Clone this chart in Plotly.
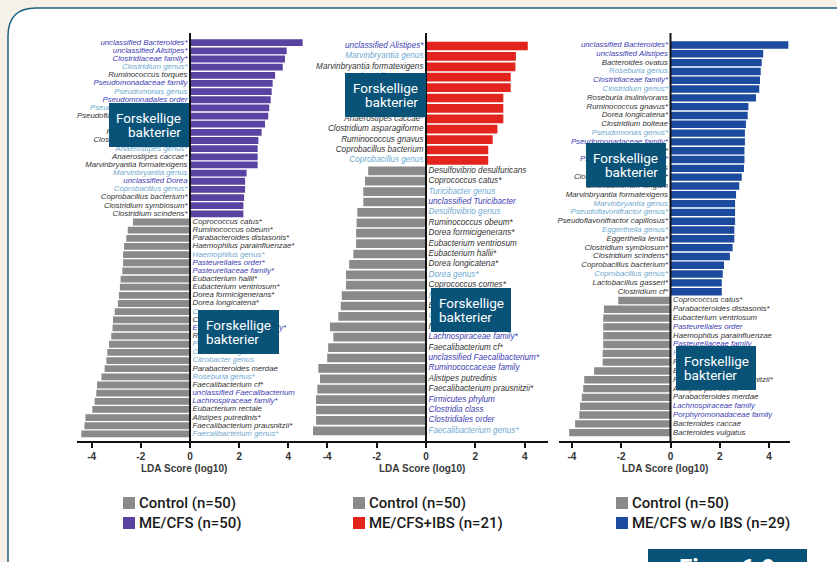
import plotly.graph_objects as go

W, H = 837, 562


def px(x):
    return x / W


def py(y):
    return 1 - y / H


# ---------------- data ----------------
# Panel 1: ME/CFS (n=50) vs Control (n=50)
p1_case_names = [
    "unclassified Bacteroides*", "unclassified Alistipes*", "Clostridiaceae family*",
    "Clostridium genus*", "Ruminococcus torques", "Pseudomonadaceae family",
    "Pseudomonas genus", "Pseudomonadales order", "Pseudoflavonifractor genus*",
    "Pseudoflavonifractor capillosus*", "Clostridium bolteae*", "Roseburia inulinivorans",
    "Clostridium asparagiforme*", "Anaerostipes genus*", "Anaerostipes caccae*",
    "Marvinbryantia formatexigens", "Marvinbryantia genus", "unclassified Dorea",
    "Coprobacillus genus*", "Coprobacillus bacterium*", "Clostridium symbiosum*",
    "Clostridium scindens*",
]
p1_case_lda = [4.58, 3.93, 3.86, 3.77, 3.46, 3.36, 3.32, 3.28, 3.22, 3.18, 3.05,
               2.91, 2.78, 2.75, 2.75, 2.75, 2.30, 2.24, 2.24, 2.20, 2.17, 2.17]
p1_ctrl_names = [
    "Coprococcus catus*", "Ruminococcus obeum*", "Parabacteroides distasonis*",
    "Haemophilus parainfluenzae*", "Haemophilus genus*", "Pasteurellales order*",
    "Pasteurellaceae family*", "Eubacterium hallii*", "Eubacterium ventriosum*",
    "Dorea formicigenerans*", "Dorea longicatena*", "Coprococcus genus*",
    "Coprococcus comes*", "Erysipelotrichaceae family*", "Ruminococcus bromii",
    "Parabacteroides genus*", "Oscillibacter genus", "Citrobacter genus",
    "Parabacteroides merdae", "Roseburia genus*", "Faecalibacterium cf*",
    "unclassified Faecalibacterium", "Lachnospiraceae family*", "Eubacterium rectale",
    "Alistipes putredinis*", "Faecalibacterium prausnitzii*", "Faecalibacterium genus*",
]
p1_ctrl_lda = [-2.32, -2.53, -2.59, -2.68, -2.72, -2.72, -2.75, -2.82, -2.85, -2.89,
               -2.93, -3.06, -3.13, -3.15, -3.20, -3.29, -3.36, -3.40, -3.47, -3.60,
               -3.78, -3.81, -3.88, -3.97, -4.25, -4.29, -4.42]

# Panel 2: ME/CFS+IBS (n=21) vs Control (n=50)
p2_case_names = [
    "unclassified Alistipes*", "Marvinbryantia genus", "Marvinbryantia formatexigens",
    "Clostridium genus*", "Clostridium bolteae", "Anaerostipes genus*",
    "Dorea longicatena*", "Anaerostipes caccae*", "Clostridium asparagiforme",
    "Ruminococcus gnavus", "Coprobacillus bacterium", "Coprobacillus genus",
]
p2_case_lda = [4.12, 3.64, 3.62, 3.43, 3.43, 3.13, 3.13, 3.13, 2.89, 2.70, 2.52, 2.52]
p2_ctrl_names = [
    "Desulfovibrio desulfuricans", "Coprococcus catus*", "Turicibacter genus",
    "unclassified Turicibacter", "Desulfovibrio genus", "Ruminococcus obeum*",
    "Dorea formicigenerans*", "Eubacterium ventriosum", "Eubacterium hallii*",
    "Dorea longicatena*", "Dorea genus*", "Coprococcus comes*", "Roseburia genus*",
    "Eubacterium rectale", "Coprococcus genus*", "Ruminococcus bromii",
    "Lachnospiraceae family*", "Faecalibacterium cf*", "unclassified Faecalibacterium*",
    "Ruminococcaceae family", "Alistipes putredinis", "Faecalibacterium prausnitzii*",
    "Firmicutes phylum", "Clostridia class", "Clostridiales order",
    "Faecalibacterium genus*",
]
p2_ctrl_lda = [-2.34, -2.47, -2.54, -2.54, -2.78, -2.81, -2.83, -2.83, -2.94, -3.11,
               -3.24, -3.24, -3.41, -3.45, -3.55, -3.89, -3.75, -3.96, -4.00, -4.36,
               -4.29, -4.40, -4.45, -4.45, -4.45, -4.59]

# Panel 3: ME/CFS w/o IBS (n=29) vs Control (n=50)
p3_case_names = [
    "unclassified Bacteroides*", "unclassified Alistipes", "Bacteroides ovatus",
    "Roseburia genus", "Clostridiaceae family*", "Clostridium genus*",
    "Roseburia inulinivorans", "Ruminococcus gnavus*", "Dorea longicatena*",
    "Clostridium bolteae", "Pseudomonas genus*", "Pseudomonadaceae family*",
    "Anaerostipes caccae*", "Pseudomonadales order*", "Ruminococcus torques",
    "Clostridium asparagiforme*", "Bifidobacterium longum", "Marvinbryantia formatexigens",
    "Marvinbryantia genus", "Pseudoflavonifractor genus*", "Pseudoflavonifractor capillosus*",
    "Eggerthella genus*", "Eggerthella lenta*", "Clostridium symbiosum*",
    "Clostridium scindens*", "Coprobacillus bacterium*", "Coprobacillus genus*",
    "Lactobacillus gasseri*", "Clostridium cf*",
]
p3_case_lda = [4.78, 3.76, 3.70, 3.66, 3.63, 3.60, 3.47, 3.16, 3.13, 3.06, 3.02, 3.02,
               3.00, 3.00, 2.98, 2.89, 2.79, 2.66, 2.62, 2.62, 2.62, 2.59, 2.59, 2.52,
               2.41, 2.17, 2.12, 2.08, 2.08]
p3_ctrl_names = [
    "Coprococcus catus*", "Parabacteroides distasonis*", "Eubacterium ventriosum",
    "Pasteurellales order", "Haemophilus parainfluenzae", "Pasteurellaceae family",
    "Haemophilus genus*", "Ruminococcus obeum*", "Eubacterium hallii*",
    "Faecalibacterium prausnitzii*", "Alistipes putredinis", "Parabacteroides merdae",
    "Lachnospiraceae family", "Porphyromonadaceae family", "Bacteroides caccae",
    "Bacteroides vulgatus",
]
p3_ctrl_lda = [-2.12, -2.70, -2.73, -2.73, -2.73, -2.73, -2.75, -2.75, -3.10, -3.50,
               -3.54, -3.60, -3.67, -3.70, -3.87, -4.11]

tick_vals = [-4, -2, 0, 2, 4]
tick_text = ["-4", "-2", "0", "2", "4"]
axis_title = "LDA Score (log10)"
box_text = ["Forskellige", "bakterier"]
legend_ctrl = "Control (n=50)"
legend_cases = ["ME/CFS (n=50)", "ME/CFS+IBS (n=21)", "ME/CFS w/o IBS (n=29)"]
figure_tag = "Figur 6.9"

# ---------------- styling ----------------
GRAY = "#8b898a"
CASE_COLORS = ["#5a42a0", "#e3241c", "#1b4a9e"]
TEAL = "#0a5378"
TXT_SPECIES = "#333333"
TXT_GENUS = "#6fa9cf"
TXT_HIGHER = "#3d3db2"
LABEL_FONT = "Liberation Sans"
UI_FONT = "Roboto"


def label_color(name):
    n = name.lower()
    if "genus" in n:
        return TXT_GENUS
    if any(k in n for k in ("family", "order", "class", "phylum")):
        return TXT_HIGHER
    return TXT_SPECIES


# per-panel layout: x domain (px), zero position, px per unit, row geometry, label size
panels = [
    dict(case_n=p1_case_names, case_v=p1_case_lda, ctrl_n=p1_ctrl_names, ctrl_v=p1_ctrl_lda,
         dom=(77, 313), zero=190, scale=24.6, row0=42.7, step=8.15, fsize=7.8,
         title_x=184),
    dict(case_n=p2_case_names, case_v=p2_case_lda, ctrl_n=p2_ctrl_names, ctrl_v=p2_ctrl_lda,
         dom=(313, 548), zero=426, scale=24.7, row0=46.0, step=10.4, fsize=8.2,
         title_x=422),
    dict(case_n=p3_case_names, case_v=p3_case_lda, ctrl_n=p3_ctrl_names, ctrl_v=p3_ctrl_lda,
         dom=(559, 790), zero=670.5, scale=24.65, row0=45.0, step=8.81, fsize=7.8,
         title_x=665),
]

PLOT_TOP, PLOT_BOTTOM = 33, 441

fig = go.Figure()
layout_axes = {}
shapes = []
annotations = []

for k, p in enumerate(panels):
    xa = "x" if k == 0 else f"x{k + 1}"
    ya = "y" if k == 0 else f"y{k + 1}"
    n_case = len(p["case_v"])
    n_ctrl = len(p["ctrl_v"])
    case_rows = list(range(n_case))
    ctrl_rows = list(range(n_case, n_case + n_ctrl))

    fig.add_trace(go.Bar(x=p["case_v"], y=case_rows, orientation="h", width=0.84,
                         marker=dict(color=CASE_COLORS[k], line=dict(width=0)),
                         xaxis=xa, yaxis=ya, showlegend=False, hoverinfo="skip"))
    fig.add_trace(go.Bar(x=p["ctrl_v"], y=ctrl_rows, orientation="h", width=0.84,
                         marker=dict(color=GRAY, line=dict(width=0)),
                         xaxis=xa, yaxis=ya, showlegend=False, hoverinfo="skip"))

    # taxon labels on the opposite side of the zero line
    off = 2.5 / p["scale"]
    fig.add_trace(go.Scatter(x=[-off] * n_case, y=case_rows, mode="text",
                             text=p["case_n"], textposition="middle left",
                             textfont=dict(size=p["fsize"], family=LABEL_FONT, style="italic",
                                           color=[label_color(s) for s in p["case_n"]]),
                             cliponaxis=False, xaxis=xa, yaxis=ya, showlegend=False,
                             hoverinfo="skip"))
    fig.add_trace(go.Scatter(x=[off] * n_ctrl, y=ctrl_rows, mode="text",
                             text=p["ctrl_n"], textposition="middle right",
                             textfont=dict(size=p["fsize"], family=LABEL_FONT, style="italic",
                                           color=[label_color(s) for s in p["ctrl_n"]]),
                             cliponaxis=False, xaxis=xa, yaxis=ya, showlegend=False,
                             hoverinfo="skip"))

    x0px, x1px = p["dom"]
    xr = [(x0px - p["zero"]) / p["scale"], (x1px - p["zero"]) / p["scale"]]
    yr = [(PLOT_BOTTOM - p["row0"]) / p["step"], (PLOT_TOP - p["row0"]) / p["step"]]
    xkey = "xaxis" if k == 0 else f"xaxis{k + 1}"
    ykey = "yaxis" if k == 0 else f"yaxis{k + 1}"
    layout_axes[xkey] = dict(
        domain=[px(x0px), px(x1px)], range=xr, anchor=ya, tickvals=tick_vals,
        ticktext=tick_text, ticks="outside", ticklen=5, tickwidth=1.5, tickcolor="#111",
        showline=True, linecolor="#111", linewidth=1.5, showgrid=False, zeroline=False,
        tickfont=dict(size=10, family=LABEL_FONT, color="#333", weight="bold"),
        fixedrange=True,
    )
    layout_axes[ykey] = dict(
        domain=[py(PLOT_BOTTOM), py(PLOT_TOP)], range=yr, anchor=xa, visible=False,
        showgrid=False, zeroline=False, fixedrange=True,
    )

    # zero line
    shapes.append(dict(type="line", xref=xa, yref=f"{ya} domain", x0=0, x1=0, y0=0, y1=1,
                       line=dict(color="#111", width=2), layer="above"))

    annotations.append(dict(text=axis_title, x=px(p["title_x"]), y=py(468), xref="paper",
                            yref="paper", showarrow=False, xanchor="center", yanchor="middle",
                            font=dict(size=10, family=LABEL_FONT, color="#3a3a3a",
                                      weight="bold")))

# "Forskellige bakterier" callouts: (left, top, right, bottom, align)
callouts = [
    (109, 103, 189, 147, "right"),
    (198, 310, 279, 354, "left"),
    (345, 73, 426, 117, "right"),
    (431, 288, 511, 332, "left"),
    (586, 143, 666, 187, "right"),
    (676, 346, 756, 390, "left"),
]
for (l, t, r, b, al) in callouts:
    shapes.append(dict(type="rect", xref="paper", yref="paper", x0=px(l), x1=px(r),
                       y0=py(b), y1=py(t), fillcolor=TEAL, line=dict(width=0), layer="above"))
    for j, line in enumerate(box_text):
        xx = r - 6 if al == "right" else l + 6
        annotations.append(dict(text=line, x=px(xx), y=py(t + 15 + 14 * j), xref="paper",
                                yref="paper", showarrow=False,
                                xanchor="right" if al == "right" else "left",
                                yanchor="middle",
                                font=dict(size=13.5, family=UI_FONT, color="white")))

# legends under each panel
legend_x = [123, 353, 616]
for k in range(3):
    rows = [(legend_ctrl, GRAY, 503), (legend_cases[k], CASE_COLORS[k], 523)]
    for (lab, col, yc) in rows:
        x0 = legend_x[k]
        shapes.append(dict(type="rect", xref="paper", yref="paper", x0=px(x0), x1=px(x0 + 12),
                           y0=py(yc + 6), y1=py(yc - 6), fillcolor=col, line=dict(width=0)))
        annotations.append(dict(text=lab, x=px(x0 + 14), y=py(yc), xref="paper", yref="paper",
                                showarrow=False, xanchor="left", yanchor="middle",
                                font=dict(size=15, family=UI_FONT, color="#1a1a1a",
                                          weight=500)))

# page frame with rounded corner
frame = (f"M {px(8)},{py(580)} L {px(8)},{py(36)} Q {px(8)},{py(8)} {px(36)},{py(8)} "
         f"L {px(860)},{py(8)} L {px(860)},{py(580)} Z")
shapes.insert(0, dict(type="path", path=frame, xref="paper", yref="paper", fillcolor="white",
                      line=dict(color="#1f5f80", width=1.5), layer="below"))

# figure tag at the bottom edge
shapes.append(dict(type="rect", xref="paper", yref="paper", x0=px(648), x1=px(807),
                   y0=py(590), y1=py(549), fillcolor=TEAL, line=dict(width=0), layer="above"))
annotations.append(dict(text=figure_tag, x=px(727), y=py(552), xref="paper", yref="paper",
                        showarrow=False, xanchor="center", yanchor="top",
                        font=dict(size=24, family=UI_FONT, color="white", weight="bold")))

fig.update_layout(
    width=W, height=H, margin=dict(l=0, r=0, t=0, b=0),
    paper_bgcolor="#f5f1e6", plot_bgcolor="rgba(0,0,0,0)",
    barmode="overlay", showlegend=False,
    shapes=shapes, annotations=annotations, **layout_axes,
)

fig.write_html("out.html", config={"displayModeBar": False})
